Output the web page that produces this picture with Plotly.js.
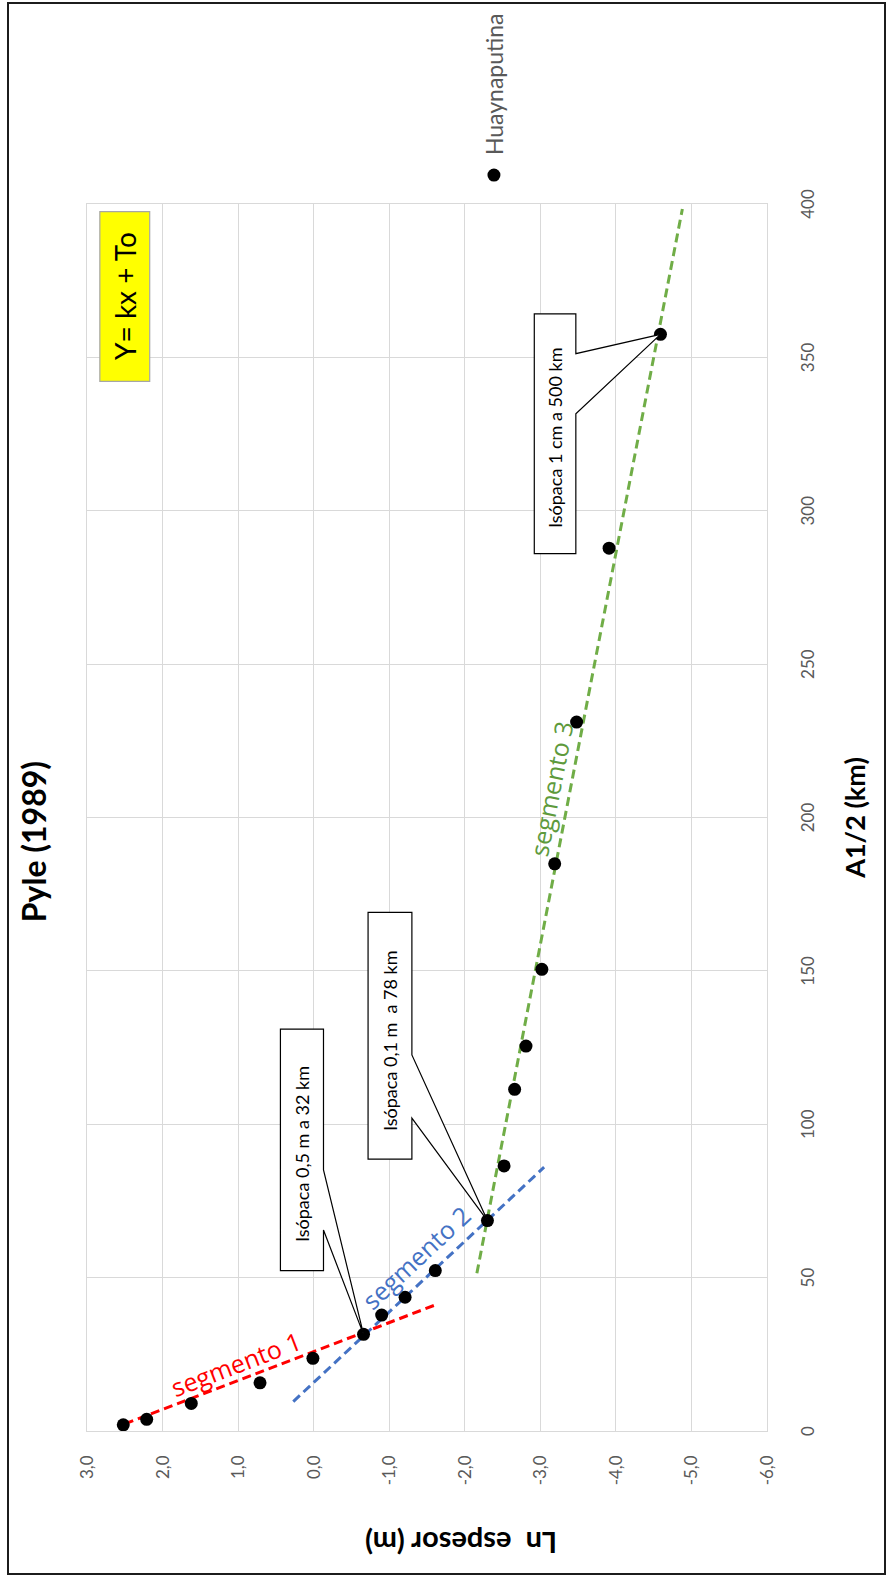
<!DOCTYPE html>
<html><head><meta charset="utf-8">
<script src="https://cdn.plot.ly/plotly-3.0.1.min.js"></script>
<style>
html,body{margin:0;padding:0;background:#fff;overflow:hidden;width:888px;height:1576px;}
#wrap{position:absolute;left:0;top:0;width:1576px;height:888px;transform-origin:0 0;transform:translate(0px,1576px) rotate(-90deg);}
#frame{position:absolute;left:7px;top:2px;width:879px;height:1573px;border:2px solid #1c1c1c;box-sizing:border-box;pointer-events:none;}
</style></head><body>
<div id="wrap"><div id="chart" style="width:1576px;height:888px;"></div></div>
<div id="frame"></div>
<script>
// ---- data (x = A^1/2 in km, y = Ln thickness in m) ----
const distanceKm  = [2.0, 3.8, 9.0, 15.7, 23.7, 31.5, 37.8, 43.6, 52.3, 68.6, 86.4, 111.4, 125.5, 150.5, 184.9, 231.1, 287.8, 357.5];
const lnThickness = [2.52, 2.21, 1.62, 0.71, 0.01, -0.66, -0.90, -1.21, -1.61, -2.30, -2.52, -2.66, -2.81, -3.02, -3.19, -3.48, -3.91, -4.59];
const seriesName = 'Huaynaputina';

const seg1X = [2.3, 41.1],  seg1Y = [2.50, -1.61];
const seg2X = [9.6, 86.0],  seg2Y = [0.27, -3.05];
const seg3X = [51.4, 398.4], seg3Y = [-2.16, -4.88];
const segNames = ['segmento 1', 'segmento 2', 'segmento 3'];

const xTickVals = [0, 50, 100, 150, 200, 250, 300, 350, 400];
const xTickText = ['0', '50', '100', '150', '200', '250', '300', '350', '400'];
const yTickVals = [3, 2, 1, 0, -1, -2, -3, -4, -5, -6];
const yTickText = ['3,0', '2,0', '1,0', '0,0', '-1,0', '-2,0', '-3,0', '-4,0', '-5,0', '-6,0'];

const calloutTexts = ['Isópaca 0,5 m a 32 km', 'Isópaca 0,1 m\u00a0 a 78 km', 'Isópaca 1 cm a 500 km'];
const calloutPointIndex = [5, 9, 17];

// ---- layout helpers ----
const FONT = 'Lato, "Open Sans", sans-serif';
const f = (size, color, fam) => ({family: fam || FONT, size: size, color: color, style: 'normal'});
const calloutBoxes = [
  {x0: 52.3, x1: 131.0, y0: -0.13, y1: 0.44, b0: 65.5, b1: 85.1},
  {x0: 88.6, x1: 169.1, y0: -1.30, y1: -0.72, b0: 102.0, b1: 122.6},
  {x0: 286.0, x1: 364.2, y0: -3.47, y1: -2.92, b0: 331.6, b1: 351.2}
];

const traces = [
  {x: seg1X, y: seg1Y, mode: 'lines', line: {color: '#ff0000', width: 3, dash: '9px,5px'}, showlegend: false, hoverinfo: 'skip'},
  {x: seg2X, y: seg2Y, mode: 'lines', line: {color: '#4472c4', width: 3, dash: '9px,5px'}, showlegend: false, hoverinfo: 'skip'},
  {x: seg3X, y: seg3Y, mode: 'lines', line: {color: '#70ad47', width: 3, dash: '9px,5px'}, showlegend: false, hoverinfo: 'skip'},
  {x: distanceKm, y: lnThickness, mode: 'markers', name: seriesName,
   marker: {color: '#000000', size: 13}}
];

const shapes = [];
const annotations = [];
calloutBoxes.forEach((b, i) => {
  const tx = distanceKm[calloutPointIndex[i]], ty = lnThickness[calloutPointIndex[i]];
  shapes.push({type: 'path', xref: 'x', yref: 'y', layer: 'above',
    path: `M ${b.x0},${b.y1} L ${b.x1},${b.y1} L ${b.x1},${b.y0} L ${b.b1},${b.y0} L ${tx},${ty} L ${b.b0},${b.y0} L ${b.x0},${b.y0} Z`,
    fillcolor: '#ffffff', line: {color: '#000000', width: 1.2}});
  annotations.push({xref: 'x', yref: 'y', x: (b.x0 + b.x1) / 2 - 1.5, y: (b.y0 + b.y1) / 2,
    text: calloutTexts[i], showarrow: false, font: f(18, '#000')});
});

// equation box
const eqBox = {x0: 342.2, x1: 397.5, y0: 2.17, y1: 2.83};
shapes.push({type: 'rect', xref: 'x', yref: 'y', layer: 'above', x0: eqBox.x0, x1: eqBox.x1, y0: eqBox.y0, y1: eqBox.y1,
  fillcolor: '#ffff00', line: {color: '#a6a6a6', width: 1.2}});
annotations.push({xref: 'x', yref: 'y', x: (eqBox.x0 + eqBox.x1) / 2, y: (eqBox.y0 + eqBox.y1) / 2,
  text: 'Y= kx + To', showarrow: false, font: f(28, '#000')});

// segment labels
const segLabelPos = [
  {x: 22.0, y: 1.03, angle: 69, color: '#ff0000'},
  {x: 56.6, y: -1.36, angle: 47, color: '#4472c4'},
  {x: 209.6, y: -3.14, angle: 11, color: '#5e9a3c'}
];
segLabelPos.forEach((p, i) => {
  annotations.push({xref: 'x', yref: 'y', x: p.x, y: p.y, text: segNames[i], textangle: p.angle,
    showarrow: false, font: f(25, p.color, '"Open Sans", sans-serif')});
});

// y axis title (placed like the original)
annotations.push({xref: 'paper', yref: 'paper', x: -0.092, y: 0.45, xanchor: 'center', yanchor: 'middle',
  text: '<b>Ln\u00a0 espesor (m)</b>', textangle: -90, showarrow: false, font: f(29, '#000')});

const axisCommon = {
  showgrid: true, gridcolor: '#d9d9d9', gridwidth: 1, zeroline: false,
  showline: true, linecolor: '#d9d9d9', linewidth: 1, mirror: true, ticks: '',
  automargin: false, tickfont: f(17, '#595959')
};

const layout = {
  width: 1576, height: 888,
  paper_bgcolor: '#ffffff', plot_bgcolor: '#ffffff',
  margin: {l: 145, r: 204, t: 87, b: 121, autoexpand: false},
  title: {text: '<b>Pyle (1989)</b>', xref: 'container', yref: 'container', x: 0.466, y: 0.961,
    xanchor: 'center', yanchor: 'middle', font: f(32, '#000')},
  xaxis: Object.assign({}, axisCommon, {range: [0, 400], tickvals: xTickVals, ticktext: xTickText,
    ticklabelstandoff: 26,
    title: {text: '<b>A1/2 (km)</b>', standoff: 28, font: f(27, '#000')}}),
  yaxis: Object.assign({}, axisCommon, {range: [-6, 3], tickvals: yTickVals, ticktext: yTickText,
    ticklabelstandoff: 20}),
  legend: {xref: 'container', yref: 'container', x: 0.8762, xanchor: 'left', y: 0.4437, yanchor: 'middle',
    bgcolor: 'rgba(0,0,0,0)', font: f(23, '#595959')},
  shapes: shapes,
  annotations: annotations,
  showlegend: true
};

Plotly.newPlot('chart', traces, layout, {staticPlot: true, displayModeBar: false});
</script>
</body></html>
